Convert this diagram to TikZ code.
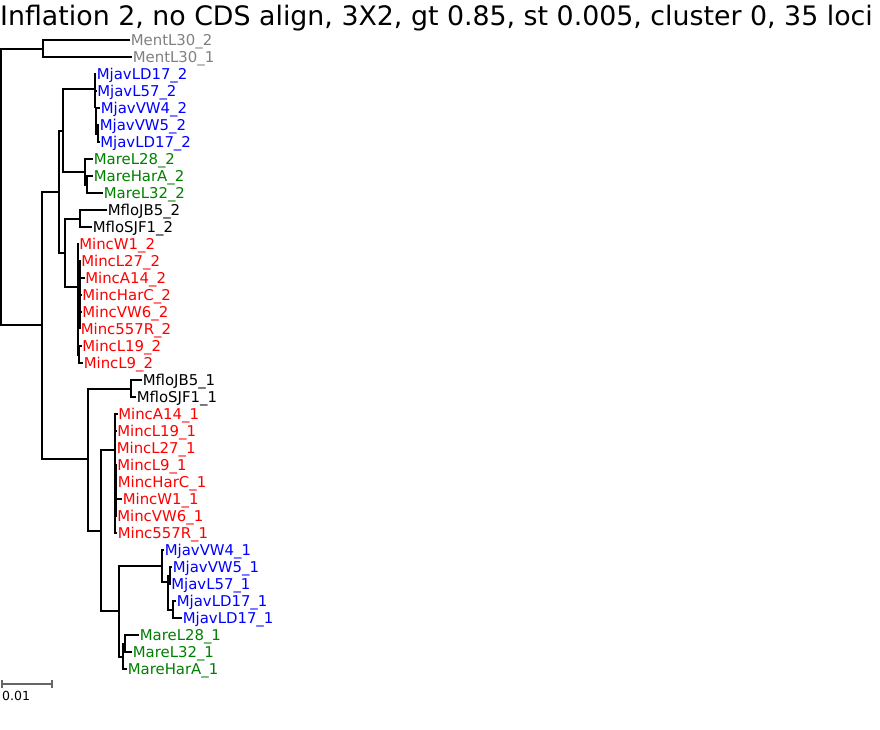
\documentclass[tikz,border=0pt]{standalone}
\usepackage{fontspec}
\setmainfont{DejaVu Sans}
\usepackage{xcolor}
\usepackage{tikz}
\definecolor{ment}{HTML}{808080}
\definecolor{mjav}{HTML}{0000FF}
\definecolor{mare}{HTML}{008000}
\definecolor{minc}{HTML}{FF0000}
\definecolor{mflo}{HTML}{000000}
\definecolor{scl}{HTML}{666666}
\tikzset{
  br/.style={draw=black, line width=2pt},
  bar/.style={draw=scl, line width=1.2pt},
  lab/.style={anchor=west, inner sep=0.6pt, text height=11pt, text depth=0pt, font=\fontsize{14.9}{16}\selectfont},
  ttl/.style={anchor=base west, inner sep=0pt, font=\fontsize{26.8}{30}\selectfont},
  sclab/.style={anchor=base west, inner sep=0pt, text=black, font=\fontsize{12.5}{14}\selectfont},
}
\begin{document}
\begin{tikzpicture}[x=1pt, y=-1pt]
  \useasboundingbox (0,0) rectangle (880,729);
  \node[ttl] (title) at (0,25) {Inflation 2, no CDS align, 3X2, gt 0.85, st 0.005, cluster 0, 35 loci};
  % inner nodes
  \coordinate (R) at (1,186);
  \coordinate (Ment) at (43,48.5);
  \coordinate (In) at (42,325);
  \coordinate (A) at (59,192);
  \coordinate (Aj) at (63,130.5);
  \coordinate (J2) at (95,89);
  \coordinate (J2b) at (96,107);
  \coordinate (J2c) at (97.5,133.5);
  \coordinate (R2) at (85,172);
  \coordinate (R2b) at (86.5,184.5);
  \coordinate (C) at (65,253);
  \coordinate (F2) at (80,218.5);
  \coordinate (I2) at (77.5,287);
  \coordinate (I2a) at (79.5,305);
  \coordinate (I2c) at (80,312);
  \coordinate (I2b) at (79,354.5);
  \coordinate (B) at (88,459);
  \coordinate (F1) at (130.5,388.5);
  \coordinate (D) at (101,531);
  \coordinate (I1) at (115,450);
  \coordinate (I1b) at (116,490);
  \coordinate (E) at (119,611);
  \coordinate (J1) at (162,566);
  \coordinate (J1b) at (168,582);
  \coordinate (J1c) at (170,575.5);
  \coordinate (J1d) at (173,609.5);
  \coordinate (R1) at (123,657);
  \coordinate (R1b) at (125,643.5);
  % leaves
  \node[lab, text=ment] (L1) at (130,40) {MentL30\_2};
  \node[lab, text=ment] (L2) at (132,57) {MentL30\_1};
  \node[lab, text=mjav] (L3) at (96,74) {MjavLD17\_2};
  \node[lab, text=mjav] (L4) at (96.5,91) {MjavL57\_2};
  \node[lab, text=mjav] (L5) at (100,108) {MjavVW4\_2};
  \node[lab, text=mjav] (L6) at (99,125) {MjavVW5\_2};
  \node[lab, text=mjav] (L7) at (99.5,142) {MjavLD17\_2};
  \node[lab, text=mare] (L8) at (93,159) {MareL28\_2};
  \node[lab, text=mare] (L9) at (93,176) {MareHarA\_2};
  \node[lab, text=mare] (L10) at (103,193) {MareL32\_2};
  \node[lab, text=mflo] (L11) at (107,210) {MfloJB5\_2};
  \node[lab, text=mflo] (L12) at (92,227) {MfloSJF1\_2};
  \node[lab, text=minc] (L13) at (78.5,244) {MincW1\_2};
  \node[lab, text=minc] (L14) at (80.5,261) {MincL27\_2};
  \node[lab, text=minc] (L15) at (84.5,278) {MincA14\_2};
  \node[lab, text=minc] (L16) at (81.5,295) {MincHarC\_2};
  \node[lab, text=minc] (L17) at (81.5,312) {MincVW6\_2};
  \node[lab, text=minc] (L18) at (80,329) {Minc557R\_2};
  \node[lab, text=minc] (L19) at (81.5,346) {MincL19\_2};
  \node[lab, text=minc] (L20) at (83,363) {MincL9\_2};
  \node[lab, text=mflo] (L21) at (142,380) {MfloJB5\_1};
  \node[lab, text=mflo] (L22) at (136,397) {MfloSJF1\_1};
  \node[lab, text=minc] (L23) at (117.5,414) {MincA14\_1};
  \node[lab, text=minc] (L24) at (116.5,431) {MincL19\_1};
  \node[lab, text=minc] (L25) at (116,448) {MincL27\_1};
  \node[lab, text=minc] (L26) at (116.5,465) {MincL9\_1};
  \node[lab, text=minc] (L27) at (117,482) {MincHarC\_1};
  \node[lab, text=minc] (L28) at (122,499) {MincW1\_1};
  \node[lab, text=minc] (L29) at (116.5,516) {MincVW6\_1};
  \node[lab, text=minc] (L30) at (117,533) {Minc557R\_1};
  \node[lab, text=mjav] (L31) at (164,550) {MjavVW4\_1};
  \node[lab, text=mjav] (L32) at (172,567) {MjavVW5\_1};
  \node[lab, text=mjav] (L33) at (170.5,584) {MjavL57\_1};
  \node[lab, text=mjav] (L34) at (176,601) {MjavLD17\_1};
  \node[lab, text=mjav] (L35) at (182,618) {MjavLD17\_1};
  \node[lab, text=mare] (L36) at (139,635) {MareL28\_1};
  \node[lab, text=mare] (L37) at (132,652) {MareL32\_1};
  \node[lab, text=mare] (L38) at (127,669) {MareHarA\_1};
  % branches
  \draw[br] (R) |- (Ment) (R) |- (In);
  \draw[br] (Ment) |- (L1.west) (Ment) |- (L2.west);
  \draw[br] (In) |- (A) (In) |- (B);
  \draw[br] (A) |- (Aj) (A) |- (C);
  \draw[br] (Aj) |- (J2) (Aj) |- (R2);
  \draw[br] (J2) |- (L3.west) (J2) |- (L4.west) (J2) |- (J2b);
  \draw[br] (J2b) |- (L5.west) (J2b) |- (J2c);
  \draw[br] (J2c) |- (L6.west) (J2c) |- (L7.west);
  \draw[br] (R2) |- (L8.west) (R2) |- (R2b);
  \draw[br] (R2b) |- (L9.west) (R2b) |- (L10.west);
  \draw[br] (C) |- (F2) (C) |- (I2);
  \draw[br] (F2) |- (L11.west) (F2) |- (L12.west);
  \draw[br] (I2) |- (L13.west) (I2) |- (I2a) (I2) |- (I2b);
  \draw[br] (I2a) |- (L14.west) (I2a) |- (L15.west) (I2a) |- (I2c);
  \draw[br] (I2c) |- (L16.west) (I2c) |- (L17.west) (I2c) |- (L18.west);
  \draw[br] (I2b) |- (L19.west) (I2b) |- (L20.west);
  \draw[br] (B) |- (F1) (B) |- (D);
  \draw[br] (F1) |- (L21.west) (F1) |- (L22.west);
  \draw[br] (D) |- (I1) (D) |- (E);
  \draw[br] (I1) |- (L23.west) (I1) |- (L24.west) (I1) |- (L25.west) (I1) |- (I1b) (I1) |- (L30.west);
  \draw[br] (I1b) |- (L26.west) (I1b) |- (L27.west) (I1b) |- (L28.west) (I1b) |- (L29.west);
  \draw[br] (E) |- (J1) (E) |- (R1);
  \draw[br] (J1) |- (L31.west) (J1) |- (J1b);
  \draw[br] (J1b) |- (J1c) (J1b) |- (J1d);
  \draw[br] (J1c) |- (L32.west) (J1c) |- (L33.west);
  \draw[br] (J1d) |- (L34.west) (J1d) |- (L35.west);
  \draw[br] (R1) |- (R1b) (R1) |- (L38.west);
  \draw[br] (R1b) |- (L36.west) (R1b) |- (L37.west);
  % scale bar
  \coordinate (S0) at (2,684);
  \coordinate (S1) at (52,684);
  \draw[bar] (S0) -- (S1);
  \draw[bar] ([yshift=4pt]S0) -- ([yshift=-4pt]S0) ([yshift=4pt]S1) -- ([yshift=-4pt]S1);
  \node[sclab] (SL) at (2,700) {0.01};
\end{tikzpicture}
\end{document}
